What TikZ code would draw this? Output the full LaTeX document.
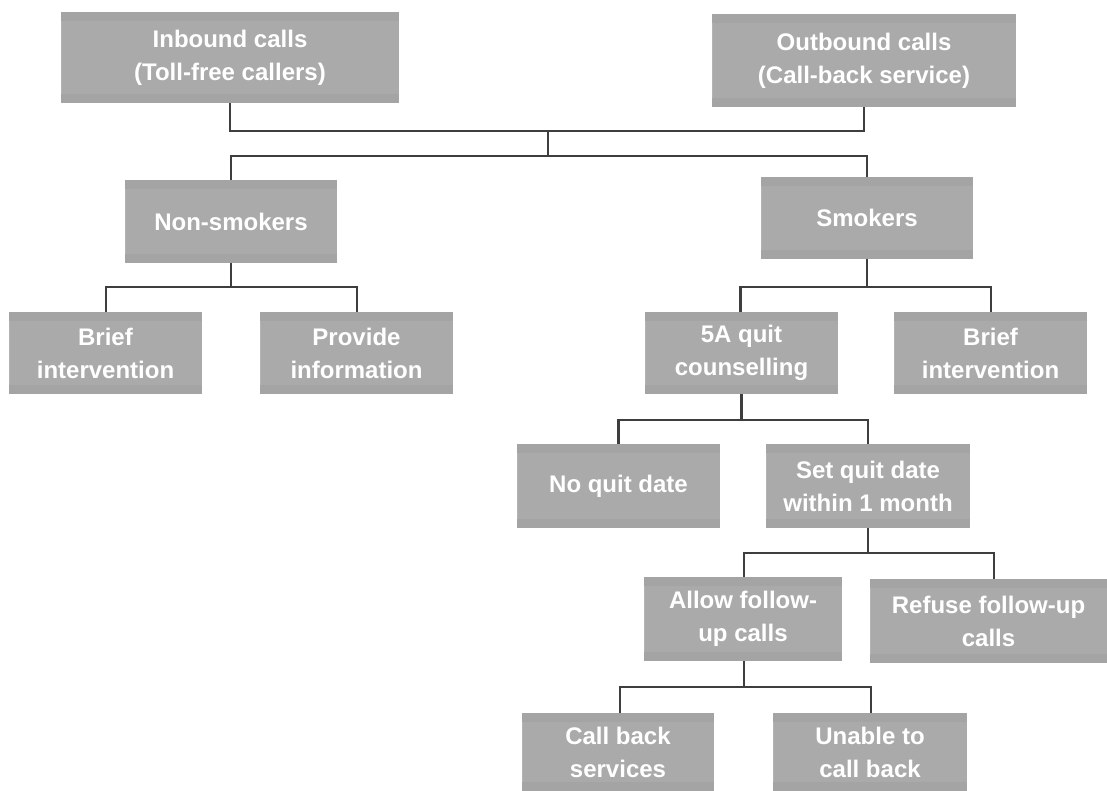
\documentclass[tikz,border=0pt]{standalone}
\usepackage{fontspec}
\setmainfont{Liberation Sans}
\definecolor{boxband}{HTML}{A4A4A4}
\definecolor{boxmid}{HTML}{AAAAAA}
\definecolor{boxedge}{HTML}{B4B4B4}
\definecolor{wire}{HTML}{3E3E3E}
\begin{document}
\begin{tikzpicture}[x=1pt, y=-1pt,
  box/.style={rectangle, inner sep=0pt, align=center, text=white,
    font=\fontsize{24}{33}\selectfont\bfseries,
    fill=boxband,
    path picture={
      \fill[boxmid] ([yshift=-9pt]path picture bounding box.north west)
        rectangle ([yshift=9pt]path picture bounding box.south east);
      \draw[boxedge, line width=1pt]
        ([xshift=0.5pt,yshift=-9pt]path picture bounding box.north west)
        -- ([xshift=0.5pt,yshift=9pt]path picture bounding box.south west);
    }},
  wire/.style={draw=wire, line width=2.6pt, line join=miter}]
\useasboundingbox (0,0) rectangle (1107,791);

% level 1: call sources
\node[box, minimum width=338pt, minimum height=91pt] (in) at (230,57.5)
  {Inbound calls\\(Toll-free callers)};
\node[box, minimum width=304pt, minimum height=93pt] (out) at (864,60.5)
  {Outbound calls\\(Call-back service)};

% level 2: caller type
\node[box, minimum width=212pt, minimum height=83pt] (non) at (231,221.5) {Non-smokers};
\node[box, minimum width=212pt, minimum height=82pt] (smk) at (867,218) {Smokers};

% level 3
\node[box, minimum width=193pt, minimum height=82pt] (bi1) at (105.5,353) {Brief\\intervention};
\node[box, minimum width=193pt, minimum height=82pt] (prov) at (356.5,353) {Provide\\information};
\node[box, minimum width=193pt, minimum height=82pt] (q5a) at (741.5,353) {5A quit\\counselling};
\node[box, minimum width=193pt, minimum height=82pt] (bi2) at (990.5,353) {Brief\\intervention};

% level 4
\node[box, minimum width=203pt, minimum height=84pt] (noq) at (618.5,486) {No quit date};
\node[box, minimum width=204pt, minimum height=84pt] (setq) at (868,486) {Set quit date\\within 1 month};

% level 5
\node[box, minimum width=198pt, minimum height=84pt] (allow) at (743,619) {Allow follow-\\up calls};
\node[box, minimum width=237pt, minimum height=84pt] (refuse) at (988.5,621) {Refuse follow-up\\calls};

% level 6
\node[box, minimum width=192pt, minimum height=78pt] (cb) at (618,752) {Call back\\services};
\node[box, minimum width=194pt, minimum height=78pt] (unable) at (870,752) {Unable to\\call back};

% junction points
\coordinate (j1) at (548,131);
\coordinate (j2) at (548,156);
\coordinate (j3) at (231,287);
\coordinate (j4) at (867,287);
\coordinate (j5) at (741.5,420);
\coordinate (j6) at (868,553);
\coordinate (j7) at (744,687);

% connectors
\draw[wire] (in.south) |- (j1) -| (out.south);
\draw[wire] (j1) -- (j2);
\draw[wire] (non.north) |- (j2) -| (smk.north);
\draw[wire] (non.south) -- (j3);
\draw[wire] ([xshift=0.5pt]bi1.north) |- (j3) -| ([xshift=0.5pt]prov.north);
\draw[wire] (smk.south) -- (j4);
\draw[wire] ([xshift=-1pt]q5a.north) |- (j4) -| ([xshift=0.5pt]bi2.north);
\draw[wire] (q5a.south) -- (j5);
\draw[wire] (noq.north) |- (j5) -| (setq.north);
\draw[wire] (setq.south) -- (j6);
\draw[wire] ([xshift=1pt]allow.north) |- (j6) -| ([xshift=5.5pt]refuse.north);
\draw[wire] ([xshift=1pt]allow.south) -- (j7);
\draw[wire] ([xshift=2pt]cb.north) |- (j7) -| ([xshift=1pt]unable.north);
\end{tikzpicture}
\end{document}
